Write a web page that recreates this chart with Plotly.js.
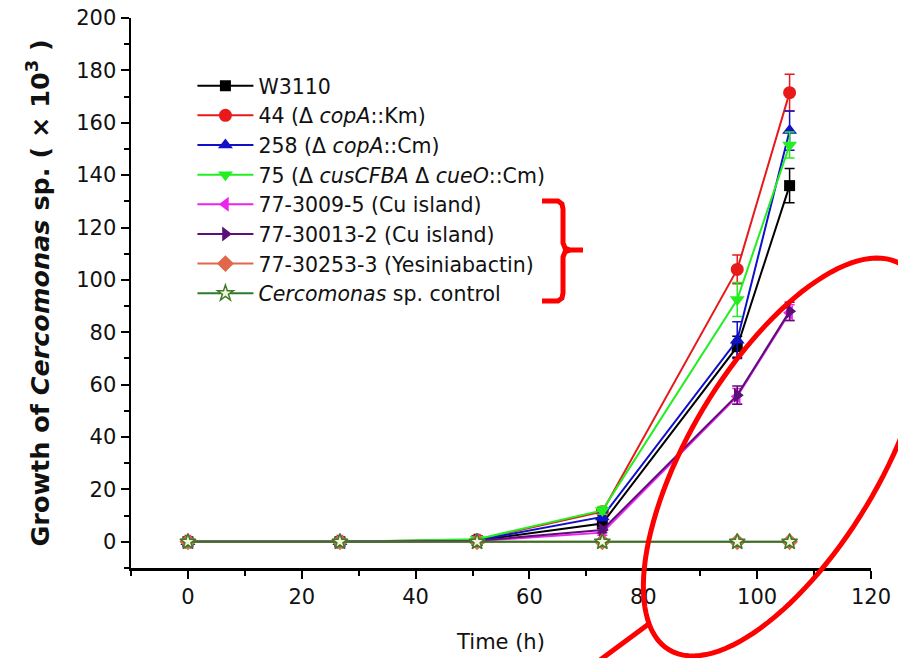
<!DOCTYPE html>
<html>
<head>
<meta charset="utf-8">
<script src="https://cdn.plot.ly/plotly-3.0.1.min.js"></script>
<style>html,body{margin:0;padding:0;background:#fff;}#chart{width:898px;height:658px;}</style>
</head>
<body>
<div id="chart"></div>
<script>
// ---- data ----
var timeH = [0, 26.7, 50.8, 72.8, 96.5, 105.7];
var seriesNames = [
  "W3110",
  "44 (Δ <i>copA</i>::Km)",
  "258 (Δ <i>copA</i>::Cm)",
  "75 (Δ <i>cusCFBA</i> Δ <i>cueO</i>::Cm)",
  "77-3009-5 (Cu island)",
  "77-30013-2 (Cu island)",
  "77-30253-3 (Yesiniabactin)",
  "<i>Cercomonas</i> sp. control"
];
var w3110   = [0, 0, 0.5, 7.0, 74.5, 136.0];
var w3110Err = [0, 0, 0.3, 1.5, 4.0, 6.5];
var s44     = [0, 0, 0.8, 11.5, 104.0, 171.5];
var s44Err  = [0, 0, 0.3, 1.5, 5.5, 7.0];
var s258    = [0, 0, 0.6, 9.5, 77.0, 157.0];
var s258Err = [0, 0, 0.3, 1.5, 7.0, 7.5];
var s75     = [0, 0, 1.0, 12.0, 92.5, 151.5];
var s75Err  = [0, 0, 0.3, 1.5, 6.5, 5.0];
var s3009   = [0, 0, 0.3, 3.5, 55.5, 87.5];
var s3009Err = [0, 0, 0.2, 1.0, 3.0, 3.0];
var s30013  = [0, 0, 0.4, 4.5, 56.0, 88.0];
var s30013Err = [0, 0, 0.2, 1.0, 3.5, 3.5];
var s30253  = [0, 0, 0, 0, 0, 0];
var control = [0, 0, 0, 0, 0, 0];
var xTicks = [0, 20, 40, 60, 80, 100, 120];
var yTicks = [0, 20, 40, 60, 80, 100, 120, 140, 160, 180, 200];

// ---- styles ----
var FONT = "'DejaVu Sans', Arial, sans-serif";
var allY = [w3110, s44, s258, s75, s3009, s30013, s30253, control];
var allErr = [w3110Err, s44Err, s258Err, s75Err, s3009Err, s30013Err, null, null];
var colors = ["#000000", "#e8191a", "#1010c8", "#22ee22", "#ee22ee", "#5c0f78", "#e0674a", "#2a7a2a"];
var symbols = ["square", "circle", "triangle-up", "triangle-down", "triangle-left", "triangle-right", "diamond", "star"];
var sizes = [11, 13, 13, 13, 13, 13, 13, 12];

var traces = allY.map(function (y, i) {
  var t = {
    x: timeH, y: y, name: seriesNames[i], type: "scatter", mode: "lines+markers",
    line: {color: colors[i], width: 2},
    marker: {symbol: symbols[i], color: colors[i], size: sizes[i]}
  };
  if (i === 7) {
    t.marker = {symbol: "star", color: "#f2f4dc", size: 12, line: {color: "#3f7a2a", width: 1.5}};
  }
  if (allErr[i]) {
    t.error_y = {type: "data", array: allErr[i], visible: true, color: colors[i], thickness: 1.5, width: 5};
  }
  return t;
});

// ---- decoration (hand drawn red marks) in pixel -> paper coords ----
var L = 131, R = 27, T = 18, B = 90, W = 898, H = 658;
var pw = W - L - R, ph = H - T - B;
function px(x) { return (x - L) / pw; }
function py(y) { return (H - B - y) / ph; }
function ellipsePath(cx, cy, a, b, thetaDeg) {
  var th = thetaDeg * Math.PI / 180, s = "";
  for (var k = 0; k <= 120; k++) {
    var t = 2 * Math.PI * k / 120;
    var ex = a * Math.cos(t), ey = b * Math.sin(t);
    var X = cx + ex * Math.cos(th) + ey * Math.sin(th);
    var Y = cy - ex * Math.sin(th) + ey * Math.cos(th);
    s += (k === 0 ? "M" : "L") + px(X).toFixed(4) + "," + py(Y).toFixed(4);
  }
  return s + "Z";
}
function polyPath(pts) {
  return pts.map(function (p, k) { return (k === 0 ? "M" : "L") + px(p[0]).toFixed(4) + "," + py(p[1]).toFixed(4); }).join("");
}
var bracePts = [[542, 201], [558, 201], [562, 204], [563, 209], [563, 243], [565, 248], [570, 250], [583, 250]];
var bracePts2 = [[570, 250], [565, 252], [563, 257], [563, 293], [562, 298], [558, 301], [542, 301]];

var shapes = [
  {type: "path", xref: "paper", yref: "paper", path: ellipsePath(785, 457, 225, 95, 59), line: {color: "#ff0000", width: 5}},
  {type: "path", xref: "paper", yref: "paper", path: polyPath([[600, 660], [650, 623]]), line: {color: "#ff0000", width: 5}},
  {type: "path", xref: "paper", yref: "paper", path: polyPath(bracePts), line: {color: "#ff0000", width: 5}},
  {type: "path", xref: "paper", yref: "paper", path: polyPath(bracePts2), line: {color: "#ff0000", width: 5}}
];

var layout = {
  width: W, height: H,
  margin: {l: L, r: R, t: T, b: B, pad: 0},
  paper_bgcolor: "#ffffff", plot_bgcolor: "#ffffff",
  font: {family: FONT, color: "#000"},
  showlegend: true,
  legend: {
    x: 0.083, y: 0.913, xanchor: "left", yanchor: "top",
    bgcolor: "rgba(0,0,0,0)", borderwidth: 0,
    font: {size: 20.5, family: FONT, color: "#111"},
    traceorder: "normal", itemwidth: 56
  },
  xaxis: {
    range: [-10, 120], tickvals: xTicks, ticktext: xTicks.map(String),
    showgrid: false, zeroline: false, showline: true, linecolor: "#000", linewidth: 2.5,
    ticks: "outside", ticklen: 8, tickwidth: 2, tickcolor: "#000",
    minor: {ticks: "outside", dtick: 10, tick0: 0, ticklen: 5, tickwidth: 2, tickcolor: "#000", showgrid: false},
    tickfont: {size: 21, color: "#111", family: FONT},
    title: {text: "Time (h)", font: {size: 21, color: "#111", family: FONT}, standoff: 27}
  },
  yaxis: {
    range: [-10, 200], tickvals: yTicks, ticktext: yTicks.map(String),
    showgrid: false, zeroline: false, showline: true, linecolor: "#000", linewidth: 2.5,
    ticks: "outside", ticklen: 8, tickwidth: 2, tickcolor: "#000",
    minor: {ticks: "outside", dtick: 10, tick0: 0, ticklen: 5, tickwidth: 2, tickcolor: "#000", showgrid: false},
    tickfont: {size: 21, color: "#111", family: FONT},
    title: {text: "<b>Growth of <i>Cercomonas</i> sp. ( × 10<sup>3</sup> )</b>", font: {size: 25.5, color: "#111", family: FONT}, standoff: 20}
  },
  shapes: shapes
};

Plotly.newPlot("chart", traces, layout, {staticPlot: true, displayModeBar: false});
</script>
</body>
</html>
